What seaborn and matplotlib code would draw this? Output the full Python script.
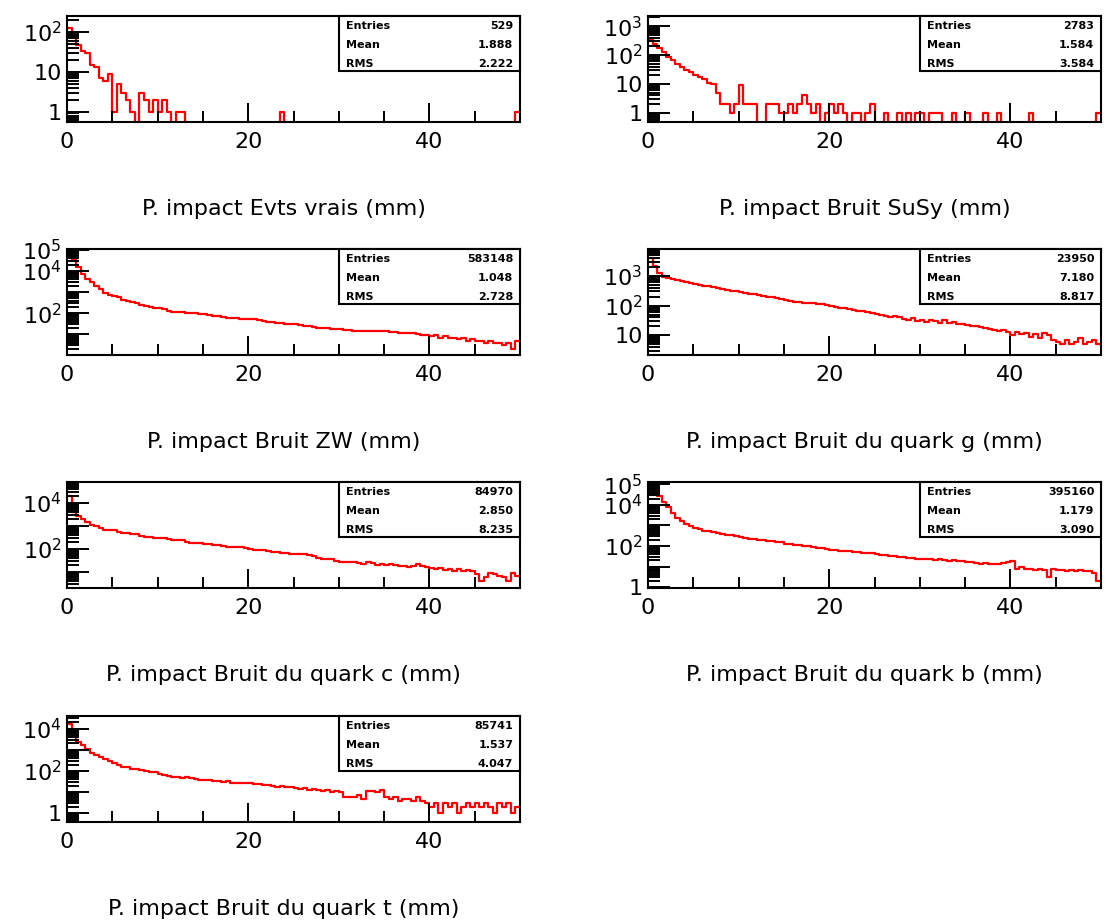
import numpy as np
import pandas as pd
import seaborn as sns
import matplotlib.pyplot as plt
from matplotlib.ticker import FixedLocator, FuncFormatter, LogLocator, MultipleLocator, NullFormatter
from matplotlib.patches import Rectangle

# 100 bins of 0.5 mm between 0 and 50 mm
bin_width = 0.5
x_range = (0, 50)

evts_vrais = [125, 80, 48, 33, 30, 15, 13, 7, 6, 9,
              1, 5, 3, 2, 1, 0, 3, 2, 1, 2,
              1, 2, 1, 0, 1, 1, 0, 0, 0, 0,
              0, 0, 0, 0, 0, 0, 0, 0, 0, 0,
              0, 0, 0, 0, 0, 0, 0, 1, 0, 0,
              0, 0, 0, 0, 0, 0, 0, 0, 0, 0,
              0, 0, 0, 0, 0, 0, 0, 0, 0, 0,
              0, 0, 0, 0, 0, 0, 0, 0, 0, 0,
              0, 0, 0, 0, 0, 0, 0, 0, 0, 0,
              0, 0, 0, 0, 0, 0, 0, 0, 0, 1]

bruit_susy = [340, 250, 175, 130, 88, 67, 50, 40, 30, 26,
              20, 17, 15, 11, 10, 5, 2, 2, 1, 2,
              9, 2, 2, 2, 0, 0, 2, 2, 2, 1,
              1, 2, 1, 2, 4, 2, 1, 2, 0, 1,
              2, 1, 2, 1, 0, 1, 1, 0, 1, 2,
              0, 0, 1, 0, 0, 1, 0, 1, 0, 1,
              1, 0, 1, 1, 1, 0, 0, 1, 0, 0,
              1, 0, 0, 0, 1, 0, 0, 1, 0, 0,
              0, 0, 0, 0, 1, 0, 0, 0, 0, 0,
              0, 0, 0, 0, 0, 0, 0, 0, 0, 1]

bruit_zw = [74000, 34000, 16000, 7400, 4200, 2900, 2000, 1350, 920, 760,
            640, 560, 430, 380, 330, 290, 250, 225, 200, 185,
            170, 150, 130, 120, 115, 110, 105, 100, 98, 95,
            90, 82, 75, 70, 65, 62, 60, 58, 56, 55,
            55, 52, 48, 44, 40, 37, 36, 34, 32, 31,
            30, 28, 26, 24, 22, 21, 20, 19, 18, 18,
            17, 16, 16, 15, 15, 15, 14, 15, 14, 15,
            14, 13, 13, 12, 12, 11, 12, 10, 9, 9,
            8, 9, 7, 8, 7, 7, 6, 7, 5, 6,
            5, 5, 4, 5, 4, 4, 3, 4, 2, 5]

bruit_g = [4000, 2100, 1200, 930, 830, 760, 700, 650, 600, 560,
           530, 500, 470, 440, 415, 390, 360, 340, 320, 300,
           280, 265, 250, 240, 225, 210, 200, 190, 175, 165,
           150, 145, 135, 130, 125, 122, 118, 112, 110, 105,
           95, 90, 85, 80, 76, 72, 68, 64, 60, 55,
           54, 50, 46, 42, 44, 40, 36, 34, 38, 30,
           34, 28, 32, 30, 26, 33, 27, 28, 25, 24,
           22, 20, 21, 19, 18, 16, 15, 14, 15, 13,
           10, 13, 11, 12, 9, 11, 8, 12, 10, 7,
           6, 5, 7, 5, 6, 8, 5, 6, 7, 5]

bruit_c = [20000, 4200, 2700, 1950, 1500, 1150, 1000, 850, 690, 690,
           640, 560, 490, 490, 470, 440, 360, 350, 330, 300,
           290, 300, 270, 255, 250, 240, 200, 180, 175, 175,
           170, 160, 146, 146, 140, 125, 125, 122, 120, 110,
           100, 90, 88, 88, 80, 73, 73, 70, 65, 62,
           62, 60, 58, 55, 48, 40, 37, 37, 35, 31,
           28, 26, 26, 27, 25, 22, 26, 24, 21, 22,
           21, 23, 20, 18, 19, 17, 18, 22, 18, 16,
           15, 14, 15, 12, 14, 11, 13, 11, 12, 11,
           8, 4, 6, 9, 8, 7, 6, 4, 9, 7]

bruit_b = [105000, 58000, 26000, 14000, 7700, 4200, 2400, 1600, 1200, 900,
           720, 640, 560, 520, 470, 430, 390, 360, 330, 300,
           265, 250, 230, 215, 200, 190, 180, 170, 160, 150,
           130, 118, 115, 110, 105, 95, 88, 80, 78, 72,
           65, 67, 60, 58, 55, 50, 52, 47, 46, 44,
           40, 37, 35, 33, 32, 30, 28, 27, 26, 24,
           24, 23, 22, 21, 22, 20, 19, 20, 18, 19,
           17, 16, 15, 14, 15, 14, 13, 14, 15, 16,
           18, 8, 9, 8, 8, 7, 8, 7, 3, 8,
           7, 7, 6, 7, 6, 7, 6, 6, 5, 2]

bruit_t = [16000, 4900, 2300, 1600, 1070, 740, 550, 450, 350, 300,
           240, 200, 160, 150, 130, 120, 110, 95, 90, 85,
           70, 62, 55, 50, 52, 48, 50, 45, 40, 38,
           36, 38, 32, 34, 30, 33, 28, 27, 26, 27,
           26, 24, 25, 22, 22, 20, 18, 19, 18, 17,
           16, 14, 15, 12, 14, 13, 11, 12, 10, 11,
           10, 6, 6, 6, 7, 5, 11, 11, 10, 12,
           6, 5, 6, 4, 5, 5, 4, 6, 4, 3,
           2, 3, 1, 3, 2, 3, 1, 2, 3, 2,
           3, 2, 3, 2, 1, 3, 2, 3, 1, 2]

titles = ["P. impact Evts vrais (mm)", "P. impact Bruit SuSy (mm)",
          "P. impact Bruit ZW (mm)", "P. impact Bruit du quark g (mm)",
          "P. impact Bruit du quark c (mm)", "P. impact Bruit du quark b (mm)",
          "P. impact Bruit du quark t (mm)"]
entries = ["529", "2783", "583148", "23950", "84970", "395160", "85741"]
means = ["1.888", "1.584", "1.048", "7.180", "2.850", "1.179", "1.537"]
rms = ["2.222", "3.584", "2.728", "8.817", "8.235", "3.090", "4.047"]
y_limits = [(0.55, 250), (0.48, 2250), (1.05, 1.1e5), (2.2, 7900),
            (2.0, 8.3e4), (0.9, 1.3e5), (0.39, 3.9e4)]
labelled = [[1, 10, 100], [1, 10, 100, 1000], [100, 1e4, 1e5], [10, 100, 1000],
            [100, 1e4], [1, 100, 1e4, 1e5], [1, 100, 1e4]]
series = [evts_vrais, bruit_susy, bruit_zw, bruit_g, bruit_c, bruit_b, bruit_t]

sns.set_style("white")
plt.rcParams['font.family'] = ['DejaVu Sans']
plt.rcParams['mathtext.fontset'] = 'dejavusans'
for key in ['text.color', 'axes.labelcolor', 'xtick.color', 'ytick.color', 'axes.edgecolor']:
    plt.rcParams[key] = 'black'

W, H = 1109, 922
fig = plt.figure(figsize=(W / 100, H / 100), dpi=100)
col_x = [67, 648]
row_top = [16, 249, 482, 716]
ax_w, ax_h = 453, 106


def decade_label(v, labs):
    for l in labs:
        if abs(v - l) < 1e-6 * l:
            if l == 1:
                return "1"
            if l == 10:
                return "10"
            return r"$\mathregular{10^{%d}}$" % round(np.log10(l))
    return ""


for i, counts in enumerate(series):
    r, c = divmod(i, 2)
    rect = [col_x[c] / W, 1 - (row_top[r] + ax_h) / H, ax_w / W, ax_h / H]
    ax = fig.add_axes(rect)
    centers = np.arange(len(counts)) * bin_width + bin_width / 2
    df = pd.DataFrame({"x": centers, "n": counts})
    sns.histplot(data=df, x="x", weights="n", binwidth=bin_width, binrange=x_range,
                 element="step", fill=False, color="red", linewidth=1.6, ax=ax)
    ax.set_yscale("log")
    ax.set_xlim(*x_range)
    ax.set_ylim(*y_limits[i])
    ax.set_xlabel("")
    ax.set_ylabel("")
    ax.set_axisbelow(False)
    for sp in ax.spines.values():
        sp.set_visible(True)
        sp.set_color("black")
        sp.set_linewidth(1.5)

    ax.xaxis.set_major_locator(MultipleLocator(20))
    ax.xaxis.set_minor_locator(MultipleLocator(5))
    ax.yaxis.set_major_locator(FixedLocator([10.0 ** k for k in range(-1, 7)]))
    ax.yaxis.set_minor_locator(LogLocator(base=10, subs=np.arange(2, 10), numticks=60))
    ax.yaxis.set_minor_formatter(NullFormatter())
    labs = labelled[i]
    ax.yaxis.set_major_formatter(FuncFormatter(lambda v, p, labs=labs: decade_label(v, labs)))
    ax.tick_params(axis="x", which="major", direction="in", length=14, width=1.4,
                   labelsize=16, pad=7, bottom=True, top=False, colors="black")
    ax.tick_params(axis="x", which="minor", direction="in", length=8, width=1.4,
                   bottom=True, top=False, colors="black")
    ax.tick_params(axis="y", which="major", direction="in", length=16, width=1.4,
                   labelsize=16, pad=4, left=True, right=False, colors="black")
    ax.tick_params(axis="y", which="minor", direction="in", length=8.5, width=1.4,
                   left=True, right=False, colors="black")

    # statistics box
    bx0, by0 = 0.6, 0.48
    ax.add_patch(Rectangle((bx0, by0), 1 - bx0, 1 - by0, transform=ax.transAxes,
                           facecolor="white", edgecolor="black", linewidth=1.5,
                           zorder=5, clip_on=False))
    for yy, name, val in [(0.905, "Entries", entries[i]), (0.725, "Mean", means[i]),
                          (0.545, "RMS", rms[i])]:
        ax.text(bx0 + 0.015, yy, name, transform=ax.transAxes, fontsize=8,
                fontweight="bold", ha="left", va="center", zorder=6, color="black")
        ax.text(0.985, yy, val, transform=ax.transAxes, fontsize=8,
                fontweight="bold", ha="right", va="center", zorder=6, color="black")

    ax.text(0.478, -87 / ax_h, titles[i], transform=ax.transAxes, fontsize=16,
            ha="center", va="center", color="black")

fig.savefig("out.png", dpi=100)
